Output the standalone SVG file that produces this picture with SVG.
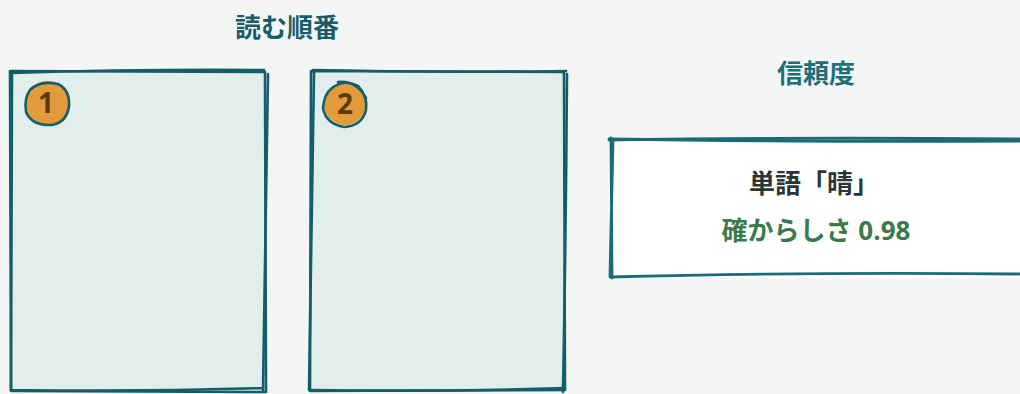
<svg xmlns="http://www.w3.org/2000/svg" width="1020" height="394" viewBox="0 0 1020 394">
<style>
.t{font-family:"Open Sans","Noto Sans CJK JP",sans-serif;font-weight:700;text-anchor:middle;font-size:26px}
.panel{fill:#e1eeec;stroke:none}
.sk{fill:none;stroke:#135e69;stroke-width:2.6;stroke-linecap:round;stroke-linejoin:round}
.sk2{fill:none;stroke:#1a6b76;stroke-width:2.8;stroke-linecap:round;stroke-linejoin:round}
.badge{fill:#e39a3b}
.num{font-family:"Open Sans",sans-serif;font-weight:700;font-size:28px;fill:#5c3b08;text-anchor:middle}
</style>
<rect width="1020" height="394" fill="#f4f6f5"/>
<text class="t" x="287" y="37" fill="#1a5d68">読む順番</text>
<text class="t" x="816" y="83" fill="#1b6e7a">信頼度</text>
<g id="panel1">
<rect class="panel" x="11" y="71" width="255" height="321"/>
<path class="sk" d="M10 71 L265 72 L266 392 L11 391 Z"/>
<path class="sk" d="M12 73 Q140 69 264 70 M268 74 Q265 230 263 390 M262 388 Q140 392 12 390 M12 72 L11 390"/>
</g>
<g id="badge1">
<circle class="badge" cx="47" cy="103" r="22"/>
<path class="sk" d="M30 90 Q40 80 58 84 Q70 90 69 106 Q67 122 52 125 Q32 126 26 112 Q24 98 30 90 Z"/>
<text class="num" x="46" y="113">1</text>
</g>
<g id="panel2">
<rect class="panel" x="311" y="71" width="254" height="321"/>
<path class="sk" d="M311 71 L564 72 L565 390 L310 391 Z"/>
<path class="sk" d="M313 70 Q440 73 566 71 M567 74 Q566 230 563 392 M565 388 Q440 392 311 390 M314 72 Q311 230 309 390"/>
</g>
<g id="badge2">
<circle class="badge" cx="345" cy="104" r="21"/>
<path class="sk" d="M330 90 Q342 78 358 86 Q368 96 366 110 Q362 126 344 127 Q326 124 323 108 Q324 94 332 88 M338 82 Q356 80 366 98"/>
<text class="num" x="345" y="114">2</text>
</g>
<g id="confidence">
<rect x="610" y="139" width="410" height="139" fill="#ffffff"/>
<path class="sk2" d="M609 139 Q800 142 1020 141 M611 138 L612 278 M610 277 Q800 272 1020 274 M609 140 Q800 137 1020 139 M613 141 L610 276"/>
<text class="t" x="814" y="193" fill="#2a3535">単語「晴」</text>
<text class="t" x="816" y="240" fill="#3b7a4b">確からしさ 0.98</text>
</g>
<g id="connectors"></g>
</svg>
